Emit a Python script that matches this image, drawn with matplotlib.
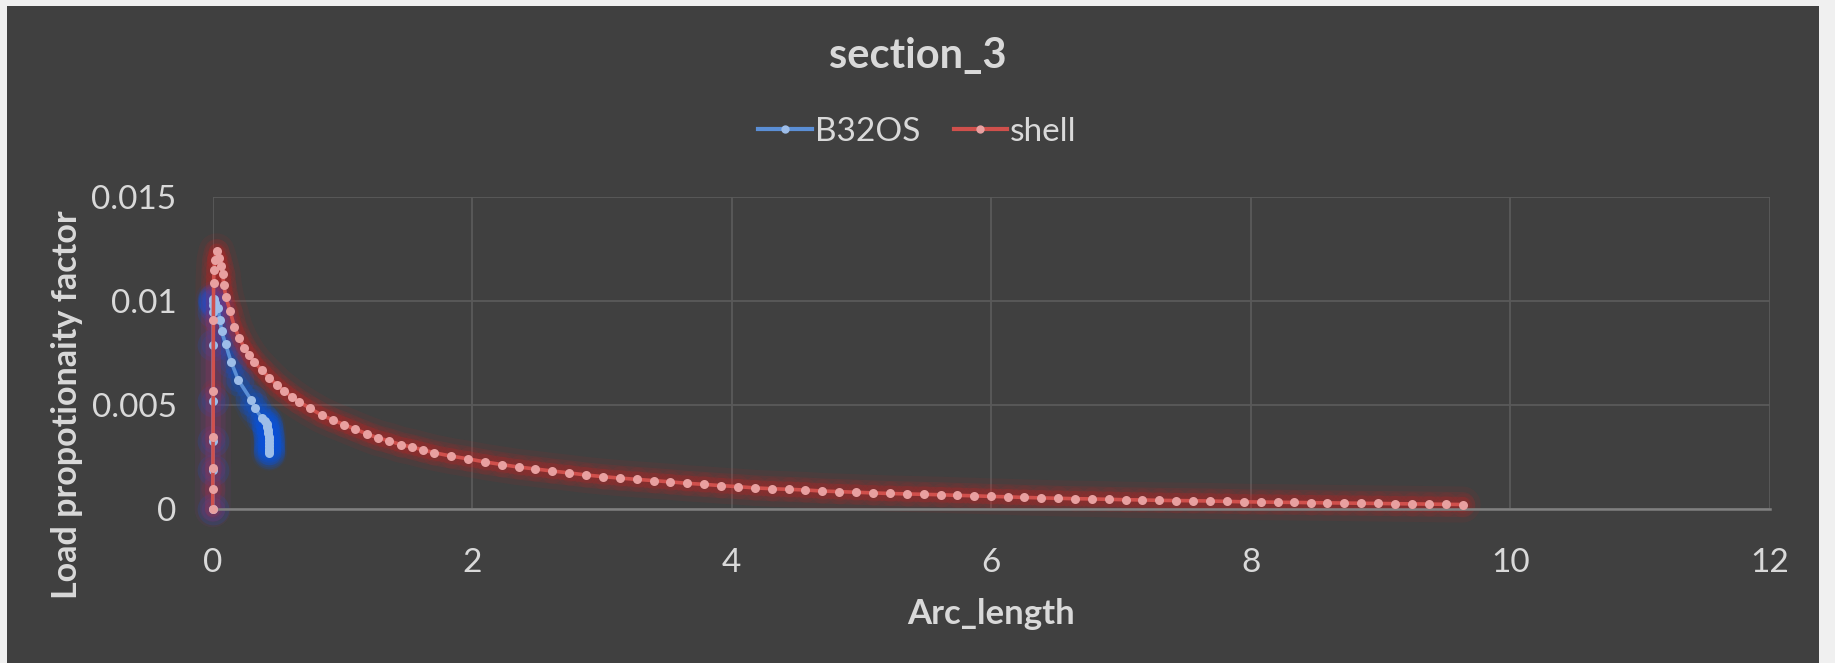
import matplotlib
matplotlib.use("Agg")
import matplotlib.pyplot as plt
from matplotlib.lines import Line2D
from matplotlib.patches import Rectangle

# shell results (arc length vs load proportionality factor)
shell_x = [0.000, 0.001, 0.002, 0.003, 0.004, 0.005, 0.007, 0.010, 0.015, 0.030,
           0.045, 0.062, 0.077, 0.085, 0.102, 0.133, 0.167, 0.205, 0.244, 0.282,
           0.321, 0.377, 0.436, 0.493, 0.552, 0.611, 0.667, 0.750, 0.840, 0.929,
           1.014, 1.099, 1.186, 1.273, 1.361, 1.448, 1.533, 1.618, 1.707, 1.836,
           1.964, 2.095, 2.229, 2.357, 2.486, 2.616, 2.747, 2.876, 3.007, 3.138,
           3.266, 3.398, 3.525, 3.652, 3.783, 3.914, 4.045, 4.178, 4.309, 4.440,
           4.563, 4.694, 4.825, 4.956, 5.085, 5.216, 5.347, 5.478, 5.609, 5.737,
           5.863, 5.994, 6.125, 6.253, 6.384, 6.515, 6.643, 6.772, 6.903, 7.034,
           7.162, 7.293, 7.424, 7.555, 7.683, 7.812, 7.943, 8.074, 8.205, 8.333,
           8.462, 8.590, 8.721, 8.852, 8.983, 9.114, 9.245, 9.370, 9.501, 9.632]
shell_y = [0.0, 0.0010, 0.0020, 0.0035, 0.0057, 0.0091, 0.0109, 0.0115, 0.0120, 0.0124,
           0.0121, 0.0117, 0.0113, 0.0108, 0.0102, 0.00955, 0.00878, 0.00822, 0.00777, 0.00740,
           0.00708, 0.00670, 0.00633, 0.00598, 0.00569, 0.00541, 0.00517, 0.00485, 0.00453, 0.00428,
           0.00407, 0.00385, 0.00363, 0.00343, 0.00329, 0.00311, 0.00300, 0.00286, 0.00272, 0.00256,
           0.00243, 0.00228, 0.00215, 0.00203, 0.00194, 0.00184, 0.00175, 0.00165, 0.00157, 0.00150,
           0.00144, 0.00138, 0.00132, 0.00125, 0.00120, 0.00114, 0.00109, 0.00103, 0.00099, 0.00096,
           0.00093, 0.00088, 0.00085, 0.00082, 0.00079, 0.00076, 0.00074, 0.00072, 0.00070, 0.00067,
           0.00065, 0.00062, 0.00060, 0.00057, 0.00055, 0.00053, 0.00051, 0.00050, 0.00048, 0.00046,
           0.00045, 0.00043, 0.00042, 0.00041, 0.00040, 0.00038, 0.00036, 0.00035, 0.00034, 0.00033,
           0.00032, 0.00031, 0.00030, 0.00029, 0.00028, 0.00027, 0.00026, 0.00025, 0.00024, 0.00023]

# B32OS beam results
beam_x = [0.000, 0.002, 0.003, 0.003, 0.004, 0.003, 0.004, 0.005, 0.006, 0.008,
          0.012, 0.020, 0.038, 0.056, 0.069, 0.100, 0.141, 0.197, 0.295, 0.326,
          0.377, 0.405, 0.415, 0.422, 0.426, 0.428, 0.430, 0.431, 0.432, 0.433,
          0.433, 0.434, 0.434]
beam_y = [0.0, 0.0019, 0.0033, 0.0052, 0.0079, 0.0095, 0.0098, 0.0100, 0.0101, 0.0101,
          0.0100, 0.0099, 0.0097, 0.0091, 0.00855, 0.00793, 0.00710, 0.00622, 0.00527, 0.00485,
          0.00440, 0.00425, 0.00410, 0.00395, 0.00380, 0.00365, 0.00350, 0.00335, 0.00320, 0.00305,
          0.00290, 0.00280, 0.00272]

x_ticks = [0, 2, 4, 6, 8, 10, 12]
y_ticks = [0, 0.005, 0.01, 0.015]
y_tick_labels = ["0", "0.005", "0.01", "0.015"]

BG = "#404040"
TXT = "#d9d9d9"
FONT = "Lato"

fig = plt.figure(figsize=(18.35, 6.63), dpi=100, facecolor="#f0f0f0")
# dark chart area inside a thin light frame
fig.patches.append(Rectangle((7 / 1835, 0), 1812 / 1835, 657 / 663,
                             transform=fig.transFigure, facecolor=BG,
                             edgecolor="none", zorder=-10))

ax = fig.add_axes([212.7 / 1835, 1 - 509.3 / 663, (1770 - 212.7) / 1835, (509.3 - 197.3) / 663])
ax.set_facecolor(BG)
ax.set_xlim(0, 12)
ax.set_ylim(0, 0.015)
ax.set_xticks(x_ticks)
ax.set_yticks(y_ticks)
ax.set_yticklabels(y_tick_labels)
ax.grid(True, color="#5a5a5a", linewidth=1.3)
ax.set_axisbelow(True)
for side in ["top", "right", "left"]:
    ax.spines[side].set_visible(False)
ax.spines["bottom"].set_color("#808080")
ax.spines["bottom"].set_linewidth(1.8)
ax.tick_params(length=0, colors=TXT, labelsize=24)
ax.tick_params(axis="x", pad=28)
ax.tick_params(axis="y", pad=26)
for lab in ax.get_xticklabels() + ax.get_yticklabels():
    lab.set_fontfamily(FONT)


def glow_series(x, y, line_c, marker_c, glow_c, blob_alpha, blob_size):
    # soft halo: wide translucent strokes plus per-point blobs
    for w, a in [(26, 0.07), (18, 0.11), (11, 0.17)]:
        ax.plot(x, y, color=glow_c, linewidth=w, alpha=a,
                solid_capstyle="round", solid_joinstyle="round", zorder=2, clip_on=False)
    for s in [blob_size, blob_size * 0.55]:
        ax.scatter(x, y, s=s, color=glow_c, alpha=blob_alpha, linewidths=0,
                   zorder=2, clip_on=False)
    ax.plot(x, y, color=line_c, linewidth=2.6, marker="o", markersize=6.5,
            markerfacecolor=marker_c, markeredgewidth=0, zorder=3, clip_on=False)


glow_series(beam_x, beam_y, "#5b8fd6", "#9dbde8", "#0a55e0", 0.16, 520)
glow_series(shell_x, shell_y, "#d0504c", "#e8a0a0", "#e02020", 0.07, 300)

ax.set_xlabel("Arc_length", fontsize=25, fontweight="bold", color=TXT,
              fontfamily=FONT, labelpad=14)
fig.text(67 / 1835, 1 - 405 / 663, "Load propotionaity factor", rotation=90,
         ha="center", va="center", fontsize=24.5, fontweight="bold", color=TXT,
         fontfamily=FONT)
fig.text(0.5, 1 - 56 / 663, "section_3", ha="center", va="center",
         fontsize=30, fontweight="bold", color=TXT, fontfamily=FONT)

handles = [
    Line2D([], [], color="#5b8fd6", linewidth=3, marker="o", markersize=6,
           markerfacecolor="#9dbde8", markeredgewidth=0),
    Line2D([], [], color="#d0504c", linewidth=3, marker="o", markersize=6,
           markerfacecolor="#e8a0a0", markeredgewidth=0),
]
leg = fig.legend(handles, ["B32OS", "shell"], loc="center",
                 bbox_to_anchor=(0.5, 1 - 132 / 663), ncol=2, frameon=False,
                 handlelength=1.6, handletextpad=0.1, columnspacing=1.0,
                 prop={"family": FONT, "size": 24})
for t in leg.get_texts():
    t.set_color(TXT)

fig.savefig("out.png", dpi=100, facecolor=fig.get_facecolor())
